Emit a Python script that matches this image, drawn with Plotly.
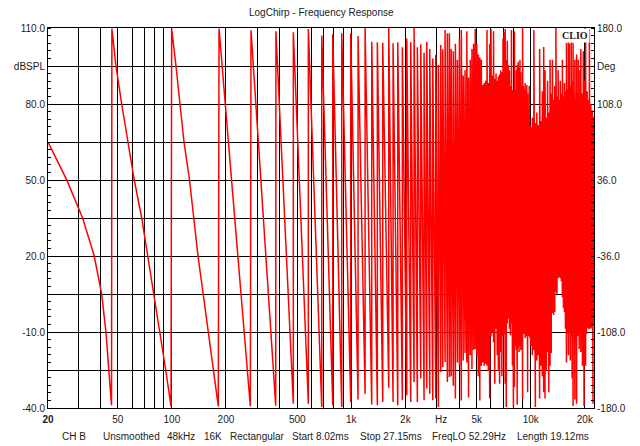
import math
import plotly.graph_objects as go

# ---------------- data ----------------
# Low-frequency part of the phase curve (vertices), Hz / degrees
lf_hz = [20.4, 25.9, 31.8, 36.9, 40.6, 42.9, 44.5, 46.1,
         46.3, 48.8, 52.5, 56.7, 61.7, 67.9, 73.3, 79.8, 85.9, 92.4, 98.9,
         99.7, 105.4, 111.3, 116.8, 125.4, 132.3, 139.8, 149.4, 159.3, 170.6, 181.4,
         183.1, 224.0, 273.6,
         276.0, 379.0,
         380.0]
lf_deg = [72.0, 36.3, 0.0, -35.8, -71.9, -107.9, -143.7, -177.5,
          179.4, 144.0, 108.0, 72.0, 36.0, 0.0, -36.0, -72.0, -108.0, -144.0, -178.5,
          179.4, 144.0, 108.0, 72.0, 36.0, 0.0, -36.0, -72.0, -108.0, -144.0, -178.5,
          179.4, 0.0, -178.4,
          177.8, -177.8,
          176.9]

# Phase wraps (mid band): frequency, value just before the jump, value just after
wrap_hz = [475, 576, 684, 788, 884, 992, 1090, 1193, 1299, 1396, 1496, 1616, 1708, 1814,
           1924, 2036, 2143, 2236, 2333, 2437, 2542, 2632, 2735, 2843, 2954, 3054, 3150,
           3232, 3329, 3428, 3518]
wrap_trough_deg = [-176.0, -175.9, -179.0, -177.5, -179.0, -174.3, -172.0, -166.4, -176.8,
                   -177.5, -174.3, -160.7, -174.3, -177.5, -172.7, -168.0, -174.3, -155.4,
                   -174.3, -152.1, -172.7, -161.6, -166.4, -172.7, -171.1, -179.0, -145.8,
                   -141.1, -136.4, -155.4, -150.6]
wrap_peak_deg = [176.0, 179.0, 172.8, 174.0, 175.0, 175.0, 172.4, 180.0, 167.0, 166.4, 166.0,
                 180.0, 165.5, 166.4, 161.7, 170.0, 166.4, 180.0, 161.7, 164.5, 156.6, 167.0,
                 160.0, 151.2, 154.4, 144.9, 163.8, 159.8, 178.0, 175.0, 175.0]

# Dense high band (wraps too close to separate): frequency, trough, peak
dense_hz = [3600, 3700, 3800, 3900, 4000, 4100, 4200, 4300, 4400, 4500,
            4600, 4700, 4800, 4900, 5000, 5100, 5200, 5300, 5400, 5500,
            5600, 5700, 5800, 5900, 6000, 6100, 6200, 6300, 6400, 6500,
            6600, 6700, 6800, 6900, 7000, 7100, 7200, 7300, 7400, 7500,
            7600, 7700, 7800, 7900, 8000, 8100, 8200, 8300, 8400, 8500,
            8600, 8700, 8800, 8900, 9000, 9100, 9200, 9300, 9400, 9500,
            9600, 9700, 9800, 9900, 10000,
            10200, 10400, 10600, 10800, 11000, 11200, 11400, 11600, 11800, 12000,
            12200, 12400, 12600, 12800, 13000, 13200, 13400, 13600, 13800, 14000,
            14200, 14400, 14600, 14800, 15000, 15200, 15400, 15600, 15800, 16000,
            16200, 16400, 16600, 16800, 17000, 17200, 17400, 17600, 17800, 18000,
            18200, 18400, 18600, 18800, 19000, 19200, 19400, 19600, 19800, 20000,
            20200, 20400, 20600, 20800, 21000, 21200, 21400, 21600, 21800, 22000,
            22200, 22400]
dense_peak_deg = [160, 158, 165, 150, 170, 178, 135, 140, 177, 133,
                  150, 160, 165, 179, 165, 155, 152, 150, 126, 128,
                  130, 178, 128, 165, 179, 135, 177, 132, 137, 130,
                  134, 136, 140, 138, 170, 176, 179, 150, 168, 145,
                  140, 125, 178, 121, 120, 177, 121, 140, 145, 148,
                  142, 150, 138, 125, 180, 125, 122, 128, 120, 126,
                  118, 92, 125, 88, 86,
                  95, 178, 90, 100, 88, 160, 92, 120, 162, 140,
                  95, 130, 100, 150, 118, 150, 112, 125, 180, 115,
                  140, 112, 130, 118, 150, 115, 128, 120, 166, 122,
                  167, 165, 125, 168, 130, 166, 118, 150, 112, 155,
                  118, 150, 110, 140, 160, 108, 118, 158, 112, 130,
                  180, 110, 120, 104, 112, 179, 100, 108, 98, 102,
                  96, 96]
dense_trough_deg = [-150, -159, -171, -137, -140, -173, -135, -128, -137, -170,
                    -130, -143, -125, -124, -130, -150, -173, -140, -137, -140,
                    -138, -140, -145, -171, -112, -108, -118, -157, -105, -130,
                    -145, -157, -127, -150, -112, -110, -157, -179, -100, -95,
                    -105, -111, -100, -140, -179, -160, -121, -125, -177, -123,
                    -127, -121, -125, -124, -171, -110, -108, -114, -112, -110,
                    -165, -112, -108, -114, -121,
                    -130, -125, -179, -135, -130, -171, -140, -150, -165, -171,
                    -145, -127, -165, -140, -128, -90, -92, -89, -70, -72,
                    -57, -56, -57, -60, -75, -85, -89, -105, -137, -110,
                    -130, -108, -135, -112, -152, -178, -115, -172, -118, -176,
                    -112, -111, -124, -108, -127, -115, -140, -110, -178, -115,
                    -140, -110, -104, -102, -105, -103, -105, -102, -104, -105,
                    -176, -102]

# Axis tick values / labels
x_grid_hz = [20.4, 30, 40, 50, 60, 70, 80, 90, 100, 200, 300, 400, 500, 600, 700, 800, 900,
             1000, 2000, 3000, 4000, 5000, 6000, 7000, 8000, 9000, 10000, 20000]
x_labels = {20.4: "<b>20</b>", 50: "50", 100: "100", 200: "200", 500: "500", 1000: "1k",
            2000: "2k", 5000: "5k", 10000: "10k", 20000: "20k"}
db_ticks = [-40, -25, -10, 5, 20, 35, 50, 65, 80, 95, 110]
db_text = ["-40.0", "", "-10.0", "", "20.0", "", "50.0", "", "80.0", "dBSPL", "110.0"]
deg_ticks = [-180, -144, -108, -72, -36, 0, 36, 72, 108, 144, 180]
deg_text = ["-180.0", "", "-108.0", "", "-36.0", "", "36.0", "", "108.0", "Deg", "180.0"]
footer = [("CH B", 60), ("Unsmoothed", 101), ("48kHz", 165), ("16K", 202),
          ("Rectangular", 228), ("Start 8.02ms", 290), ("Stop 27.15ms", 357.5),
          ("FreqLO 52.29Hz", 430), ("Length 19.12ms", 515)]

# ---------------- build the polyline ----------------
xs = list(lf_hz)
ys = list(lf_deg)
for f, lo, hi in zip(wrap_hz + dense_hz, wrap_trough_deg + dense_trough_deg,
                     wrap_peak_deg + dense_peak_deg):
    xs += [f, f]
    ys += [lo, hi]

FONT = "Liberation Sans, Arial, sans-serif"
TXT = "#1a1a1a"
W, H = 640, 446
L, R, T, B = 48, 46, 28, 38
PW = W - L - R

fig = go.Figure()
fig.add_trace(go.Scatter(x=[None], y=[None], xaxis="x", yaxis="y",
                         showlegend=False, hoverinfo="skip"))
fig.add_trace(go.Scatter(x=xs, y=ys, xaxis="x", yaxis="y2", mode="lines",
                         line=dict(color="#ff0000", width=1.5), showlegend=False))

fig.update_layout(
    width=W, height=H,
    margin=dict(l=L, r=R, t=T, b=B, pad=0),
    paper_bgcolor="white", plot_bgcolor="white",
    font=dict(family=FONT, size=10, color=TXT),
    showlegend=False,
    xaxis=dict(type="log", range=[math.log10(20.4), math.log10(22500)],
               tickmode="array", tickvals=x_grid_hz,
               ticktext=[x_labels.get(v, "") for v in x_grid_hz],
               showgrid=True, gridcolor="#000000", gridwidth=1,
               showline=True, linecolor="#000000", linewidth=1, mirror=True,
               ticks="", ticklabelstandoff=2, zeroline=False,
               tickfont=dict(size=10, color=TXT)),
    yaxis=dict(range=[-40, 110], tickmode="array", tickvals=db_ticks, ticktext=db_text,
               showgrid=True, gridcolor="#000000", gridwidth=1,
               showline=True, linecolor="#000000", linewidth=1, mirror=True,
               ticks="", zeroline=False, tickfont=dict(size=10, color=TXT),
               minor=dict(tickmode="linear", tick0=-40, dtick=3, ticks="inside",
                          ticklen=3, tickcolor="#000000", showgrid=False)),
    yaxis2=dict(range=[-180, 180], overlaying="y", side="right",
                tickmode="array", tickvals=deg_ticks, ticktext=deg_text,
                showgrid=False, showline=True, linecolor="#000000", linewidth=1,
                ticks="", zeroline=False, tickfont=dict(size=10, color=TXT),
                minor=dict(tickmode="linear", tick0=-180, dtick=7.2, ticks="inside",
                           ticklen=3, tickcolor="#000000", showgrid=False)),
)

ann = []
ann.append(dict(text="LogChirp - Frequency Response", xref="paper", yref="paper",
                x=(321.5 - L) / PW, y=1, yshift=16, xanchor="center", yanchor="middle",
                showarrow=False, font=dict(size=10, color=TXT)))
ann.append(dict(text="<b>CLIO</b>", xref="paper", yref="paper",
                x=(574.5 - L) / PW, y=1, yshift=-7.5, xanchor="center", yanchor="middle",
                showarrow=False, bgcolor="white", borderpad=1,
                font=dict(family="Liberation Serif, Times New Roman, serif", size=10,
                          color=TXT)))
ann.append(dict(text="Hz", xref="x", yref="paper", x=math.log10(3160), y=0,
                yshift=-11.5, xanchor="center", yanchor="middle", showarrow=False,
                font=dict(size=10, color=TXT)))
for txt, px in footer:
    ann.append(dict(text=txt, xref="paper", yref="paper", x=(px - L) / PW, y=0,
                    yshift=-28.7, xanchor="left", yanchor="middle", showarrow=False,
                    font=dict(size=10, color=TXT)))
fig.update_layout(annotations=ann)

fig.write_html("out.html")
